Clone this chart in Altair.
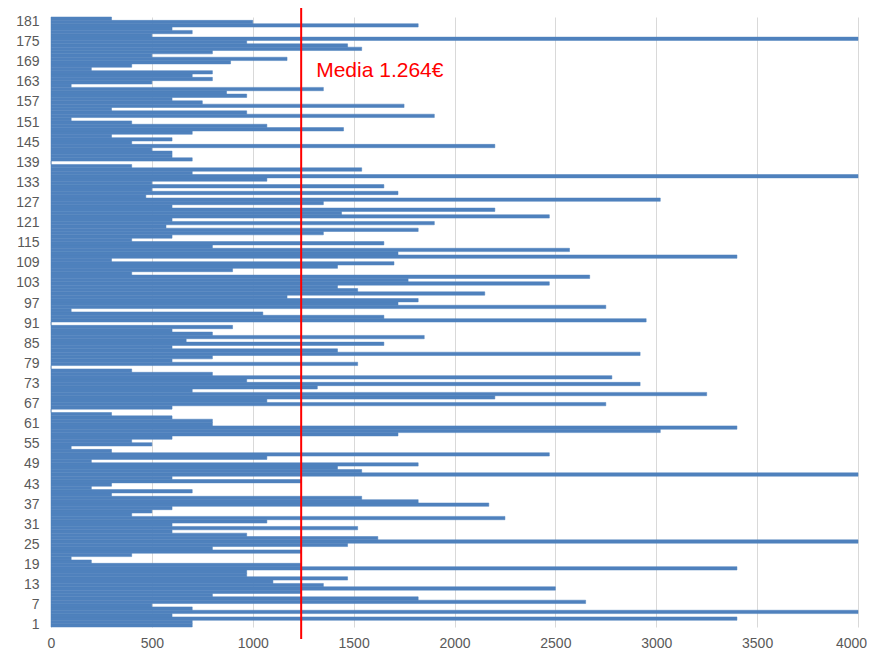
import altair as alt
import pandas as pd

# Bar values for categories 1..182 (bottom to top)
values = [
    700, 700, 3400, 600, 4000, 700, 500, 2650, 1820, 800,        # 1-10
    1240, 2500, 1350, 1100, 1470, 970, 970, 3400, 1240, 200,     # 11-20
    100, 400, 1240, 800, 1470, 4000, 1620, 970, 600, 1520,       # 21-30
    600, 1070, 2250, 400, 500, 600, 2170, 1820, 1540, 300,       # 31-40
    700, 200, 300, 1240, 600, 4000, 1540, 1420, 1820, 200,       # 41-50
    1070, 2470, 300, 100, 500, 400, 600, 1720, 3020, 3400,       # 51-60
    800, 800, 600, 300, 0, 600, 2750, 1070, 2200, 3250,          # 61-70
    700, 1320, 2920, 970, 2780, 800, 400, 0, 1520, 600,          # 71-80
    800, 2920, 1420, 600, 1650, 670, 1850, 800, 600, 900,        # 81-90
    0, 2950, 1650, 1050, 100, 2750, 1720, 1820, 1170, 2150,      # 91-100
    1520, 1420, 2470, 1770, 2670, 400, 900, 1420, 1700, 300,     # 101-110
    3400, 1720, 2570, 800, 1650, 400, 600, 1350, 1820, 570,      # 111-120
    1900, 600, 2470, 1440, 2200, 600, 1350, 3020, 470, 1720,     # 121-130
    500, 1650, 500, 1070, 4000, 700, 1540, 400, 0, 700,          # 131-140
    600, 600, 500, 2200, 400, 600, 300, 700, 1450, 1070,         # 141-150
    400, 100, 1900, 970, 300, 1750, 750, 600, 970, 870,          # 151-160
    1350, 100, 500, 800, 700, 800, 200, 400, 890, 1170,          # 161-170
    500, 800, 1540, 1470, 970, 4000, 500, 700, 600, 1820,        # 171-180
    1000, 300,                                                   # 181-182
]
categories = list(range(1, len(values) + 1))
y_tick_labels = list(range(1, 182, 6))
x_tick_labels = [0, 500, 1000, 1500, 2000, 2500, 3000, 3500, 4000]
mean_line_position = 1240
mean_label = "Media 1.264€"

df = pd.DataFrame({"cat": categories, "val": values})
mean_df = pd.DataFrame({"m": [mean_line_position], "label": [mean_label]})

W, H = 807, 610

bars = alt.Chart(df).mark_bar(
    color="#4F81BD", stroke="#4F81BD", strokeWidth=0.5
).encode(
    x=alt.X(
        "val:Q",
        scale=alt.Scale(domain=[0, 4000], nice=False),
        axis=alt.Axis(
            values=x_tick_labels,
            format="d",
            grid=True,
            gridColor="#D9D9D9",
            gridWidth=1,
            domain=False,
            ticks=False,
            labelFlush=False,
            labelOffset={"condition": {"test": "datum.value == 4000", "value": -7}, "value": 0},
            labelPadding=9,
            labelFontSize=14,
            labelColor="#595959",
            labelFont="Liberation Sans",
            title=None,
        ),
    ),
    y=alt.Y(
        "cat:O",
        sort="descending",
        scale=alt.Scale(paddingInner=0, paddingOuter=0),
        axis=alt.Axis(
            values=y_tick_labels,
            domain=False,
            ticks=False,
            labelPadding=12,
            labelFontSize=14,
            labelColor="#595959",
            labelFont="Liberation Sans",
            title=None,
        ),
    ),
)

rule = alt.Chart(mean_df).mark_rule(color="#FF0000", strokeWidth=2).encode(
    x="m:Q",
    y=alt.value(-12),
    y2=alt.value(H + 12),
)

text = alt.Chart(mean_df).mark_text(
    align="left", baseline="middle", dx=15, color="#FF0000",
    fontSize=21, font="Liberation Sans",
).encode(
    x="m:Q",
    y=alt.value(54),
    text="label:N",
)

chart = alt.layer(bars, rule, text).properties(
    width=W,
    height=H,
    autosize=alt.AutoSizeParams(type="none"),
    padding={"left": 43, "top": 9, "right": 9, "bottom": 27},
).configure_view(stroke=None)

chart.save("out.html", embed_options={"renderer": "svg", "actions": False})
